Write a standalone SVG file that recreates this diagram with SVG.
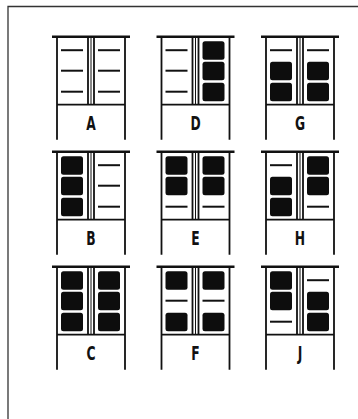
<svg xmlns="http://www.w3.org/2000/svg" width="358" height="419" viewBox="0 0 358 419">
<style>
.o{fill:none;stroke:#111;stroke-width:1.8}
.bar{stroke:#111;stroke-width:2.4}
.t{stroke:#111;stroke-width:1}
.d{stroke:#111;stroke-width:2}
.s{fill:#0d0d0d}
.lbl{font-family:"DejaVu Sans Condensed","DejaVu Sans",sans-serif;font-weight:bold;font-size:19px;text-anchor:middle;fill:#111}
</style>
<defs>
<g id="body">
<line class="bar" x1="-5" y1="0" x2="73" y2="0"/>
<path class="o" d="M0,0V103 M68,0V103 M0,68H68 M31,0V68 M37,0V68"/>
<line class="t" x1="34" y1="0" x2="34" y2="68"/>
</g>
<rect id="sq" width="22" height="18.5" rx="2.5" class="s"/>
<line id="ds" x1="0" y1="0" x2="22" y2="0" class="d"/>
</defs>
<path d="M8,419V6.5H358" fill="none" stroke="#333" stroke-width="1.3"/>
<g id="A" transform="translate(57,36.7)">
<use href="#body"/>
<use href="#ds" x="4" y="13.5"/><use href="#ds" x="4" y="34"/><use href="#ds" x="4" y="55"/>
<use href="#ds" x="41" y="13.5"/><use href="#ds" x="41" y="34"/><use href="#ds" x="41" y="55"/>
<text class="lbl" transform="translate(34,93) scale(0.72,1)">A</text>
</g>
<g id="D" transform="translate(161.5,36.7)">
<use href="#body"/>
<use href="#ds" x="4" y="13.5"/><use href="#ds" x="4" y="34"/><use href="#ds" x="4" y="55"/>
<use href="#sq" x="41" y="4.5"/><use href="#sq" x="41" y="25"/><use href="#sq" x="41" y="46"/>
<text class="lbl" transform="translate(34,93) scale(0.72,1)">D</text>
</g>
<g id="G" transform="translate(266,36.7)">
<use href="#body"/>
<use href="#ds" x="4" y="13.5"/><use href="#sq" x="4" y="25"/><use href="#sq" x="4" y="46"/>
<use href="#ds" x="41" y="13.5"/><use href="#sq" x="41" y="25"/><use href="#sq" x="41" y="46"/>
<text class="lbl" transform="translate(34,93) scale(0.72,1)">G</text>
</g>
<g id="B" transform="translate(57,151.7)">
<use href="#body"/>
<use href="#sq" x="4" y="4.5"/><use href="#sq" x="4" y="25"/><use href="#sq" x="4" y="46"/>
<use href="#ds" x="41" y="13.5"/><use href="#ds" x="41" y="34"/><use href="#ds" x="41" y="55"/>
<text class="lbl" transform="translate(34,93) scale(0.72,1)">B</text>
</g>
<g id="E" transform="translate(161.5,151.7)">
<use href="#body"/>
<use href="#sq" x="4" y="4.5"/><use href="#sq" x="4" y="25"/><use href="#ds" x="4" y="55"/>
<use href="#sq" x="41" y="4.5"/><use href="#sq" x="41" y="25"/><use href="#ds" x="41" y="55"/>
<text class="lbl" transform="translate(34,93) scale(0.72,1)">E</text>
</g>
<g id="H" transform="translate(266,151.7)">
<use href="#body"/>
<use href="#ds" x="4" y="13.5"/><use href="#sq" x="4" y="25"/><use href="#sq" x="4" y="46"/>
<use href="#sq" x="41" y="4.5"/><use href="#sq" x="41" y="25"/><use href="#ds" x="41" y="55"/>
<text class="lbl" transform="translate(34,93) scale(0.72,1)">H</text>
</g>
<g id="C" transform="translate(57,266.7)">
<use href="#body"/>
<use href="#sq" x="4" y="4.5"/><use href="#sq" x="4" y="25"/><use href="#sq" x="4" y="46"/>
<use href="#sq" x="41" y="4.5"/><use href="#sq" x="41" y="25"/><use href="#sq" x="41" y="46"/>
<text class="lbl" transform="translate(34,93) scale(0.72,1)">C</text>
</g>
<g id="F" transform="translate(161.5,266.7)">
<use href="#body"/>
<use href="#sq" x="4" y="4.5"/><use href="#ds" x="4" y="34"/><use href="#sq" x="4" y="46"/>
<use href="#sq" x="41" y="4.5"/><use href="#ds" x="41" y="34"/><use href="#sq" x="41" y="46"/>
<text class="lbl" transform="translate(34,93) scale(0.72,1)">F</text>
</g>
<g id="J" transform="translate(266,266.7)">
<use href="#body"/>
<use href="#sq" x="4" y="4.5"/><use href="#sq" x="4" y="25"/><use href="#ds" x="4" y="55"/>
<use href="#ds" x="41" y="13.5"/><use href="#sq" x="41" y="25"/><use href="#sq" x="41" y="46"/>
<text class="lbl" transform="translate(34,93) scale(0.72,1)">J</text>
</g>
</svg>
